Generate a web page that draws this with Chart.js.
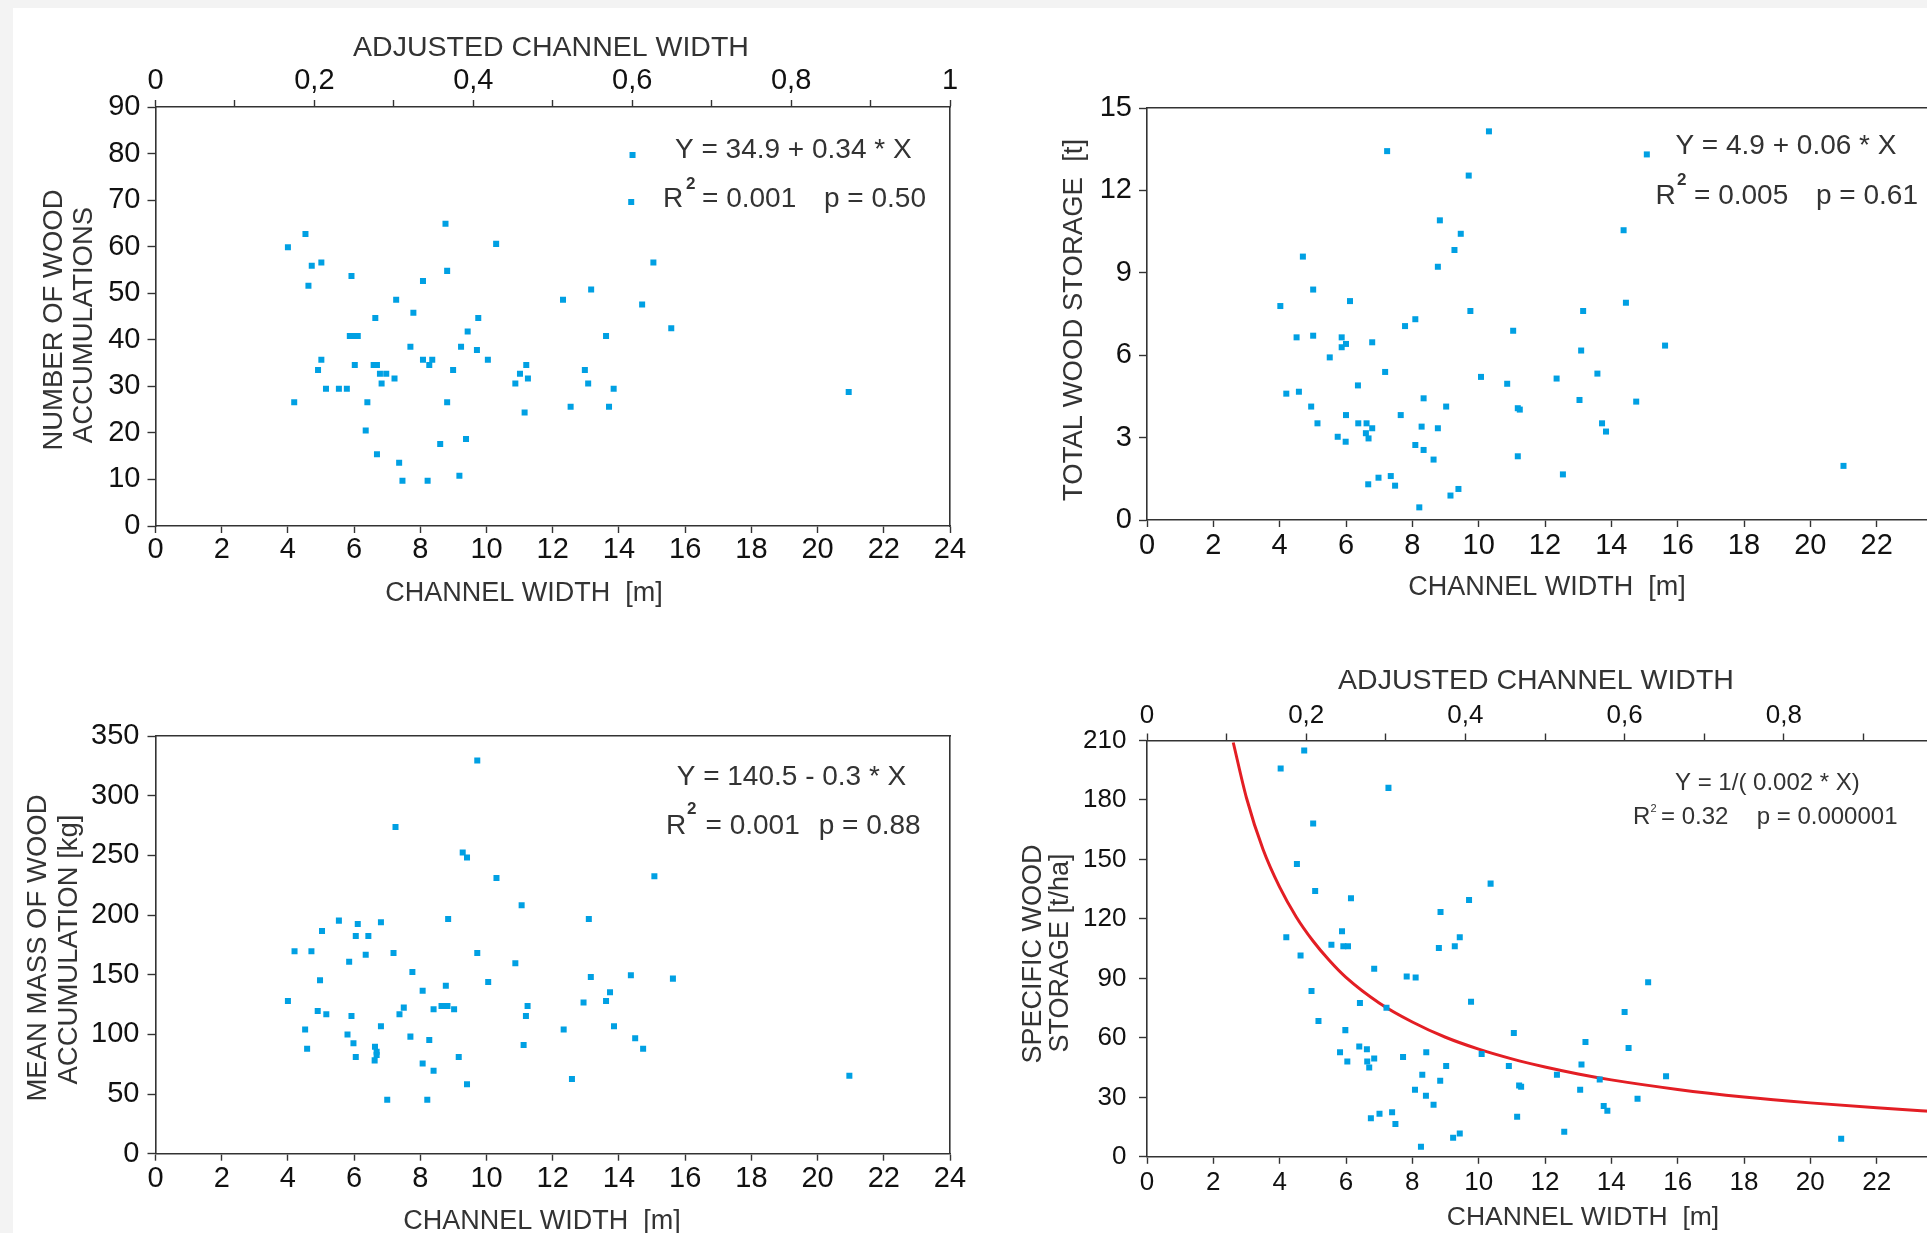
<!DOCTYPE html>
<html>
<head>
<meta charset="utf-8">
<script src="https://cdn.jsdelivr.net/npm/chart.js@4.4.0/dist/chart.umd.min.js"></script>
<style>
html,body{margin:0;padding:0;width:1927px;height:1233px;overflow:hidden;background:#f3f3f3;}
#sheet{position:absolute;left:13px;top:8px;width:1914px;height:1225px;background:#ffffff;}
canvas{position:absolute;display:block;}
</style>
</head>
<body>
<div id="sheet"></div>
<canvas id="c1" width="1000" height="616" style="left:0px;top:0px;width:1000px;height:616px"></canvas>
<canvas id="c2" width="1000" height="616" style="left:1000px;top:0px;width:1000px;height:616px"></canvas>
<canvas id="c3" width="1000" height="617" style="left:0px;top:616px;width:1000px;height:617px"></canvas>
<canvas id="c4" width="1000" height="617" style="left:1000px;top:616px;width:1000px;height:617px"></canvas>
<script>
// ---------------- DATA ----------------
// Panel A: number of wood accumulations vs channel width
const widthA = [4.00,4.53,4.72,5.01,4.62,5.92,4.19,5.01,4.91,5.15,5.54,5.78,5.87,5.99,6.11,6.02,6.64,6.59,6.69,6.78,6.97,6.83,7.22,6.40,6.35,6.69,7.27,7.79,7.70,7.36,7.46,8.08,8.76,8.81,8.08,8.36,8.27,8.99,8.81,8.22,8.60,9.18,9.38,9.23,9.43,9.75,9.71,10.04,10.29,10.87,11.01,11.20,11.25,11.15,12.31,12.54,12.97,13.07,13.16,13.61,13.70,13.84,14.70,15.04,15.58,20.94];
const countA = [59.9,62.7,55.9,56.6,51.6,53.7,26.6,35.7,33.5,29.5,29.5,29.5,40.8,40.8,40.8,34.6,44.7,34.6,34.6,32.7,32.7,30.6,31.7,26.6,20.5,15.4,48.6,45.8,38.5,13.6,9.7,52.6,64.9,54.8,35.7,35.7,34.6,33.5,26.6,9.7,17.6,10.8,18.7,38.5,41.8,44.7,37.8,35.7,60.6,30.6,32.7,34.6,31.7,24.4,48.6,25.6,33.5,30.6,50.8,40.8,25.6,29.5,47.6,56.6,42.5,28.8];
const markerX = [14.41,14.37];
const markerY = [79.7,69.6];

// Panel B: total wood storage [t]
const widthB = [10.31,7.24,15.07,9.70,8.83,9.46,9.27,8.77,14.37,4.70,5.01,4.02,6.12,9.75,14.44,13.15,8.09,7.78,11.04,4.51,5.01,5.87,6.00,5.87,6.79,5.51,15.62,13.09,7.18,10.07,10.86,12.35,13.58,6.36,4.20,4.58,4.95,8.34,9.02,11.18,11.24,13.04,14.75,6.00,7.65,5.14,6.37,6.62,6.79,6.60,6.68,8.28,8.77,13.72,13.84,5.75,5.99,8.09,8.34,8.64,11.18,12.54,6.98,7.35,6.67,7.48,9.39,9.15,8.21,21.00];
const storageB = [14.15,13.43,13.31,12.54,10.91,10.42,9.83,9.22,10.55,9.59,8.39,7.79,7.97,7.61,7.91,7.61,7.31,7.06,6.89,6.65,6.71,6.65,6.41,6.29,6.47,5.92,6.35,6.17,5.39,5.21,4.96,5.15,5.33,4.90,4.60,4.67,4.13,4.43,4.13,4.07,4.02,4.37,4.31,3.82,3.82,3.52,3.52,3.52,3.34,3.16,2.97,3.40,3.34,3.52,3.22,3.03,2.85,2.73,2.55,2.20,2.32,1.66,1.54,1.60,1.30,1.25,1.13,0.89,0.46,1.97];

// Panel C: mean mass of wood accumulation [kg]
const widthC = [9.72,7.25,9.28,9.41,10.30,15.07,11.06,8.84,13.09,5.54,6.11,6.81,5.03,6.05,6.43,4.20,4.71,6.35,7.19,9.72,5.85,10.87,7.76,4.97,13.15,14.36,15.63,10.05,8.77,13.73,8.07,4.00,12.93,13.61,7.50,8.64,8.73,8.82,8.40,9.02,11.24,4.90,5.16,5.92,7.37,11.19,6.81,12.33,13.85,4.52,5.80,7.70,8.27,5.98,6.63,6.68,6.68,6.62,14.49,14.73,11.12,4.58,6.05,9.16,8.07,8.40,9.41,12.58,7.00,8.21,20.96];
const massC = [329.4,273.8,252.3,248.1,231.0,232.4,208.1,196.7,196.7,195.3,192.5,193.9,186.6,182.4,182.4,169.6,169.6,166.8,168.2,168.2,160.9,159.5,152.3,145.3,148.1,149.5,146.7,143.9,140.8,135.2,136.6,128.0,126.6,128.0,122.4,123.8,123.8,123.8,121.0,121.0,123.8,119.6,116.8,115.4,116.8,115.4,106.8,104.0,106.8,104.0,99.8,98.1,95.3,92.5,89.7,85.5,82.7,78.2,96.7,88.0,91.1,88.0,81.0,81.0,75.5,69.6,58.1,62.6,45.3,45.3,65.3];

// Panel D: specific wood storage [t/ha]
const widthD = [4.74,4.03,7.28,5.01,4.52,5.07,6.15,10.36,9.71,8.85,4.20,5.88,5.56,5.92,6.06,9.43,9.28,8.80,4.63,6.85,7.83,8.10,4.96,9.77,6.42,7.22,15.11,5.17,14.40,5.98,11.06,13.22,14.52,5.82,6.40,6.63,8.42,10.09,6.04,6.64,6.85,6.70,7.72,9.02,10.91,13.10,8.30,12.36,13.65,15.65,8.84,11.22,11.28,8.08,13.06,8.41,8.64,14.79,13.77,13.88,11.16,6.75,7.01,7.39,7.49,12.58,9.43,9.23,8.26,20.93];
const specificD = [205.0,195.9,186.1,168.1,147.7,134.1,130.4,137.8,129.6,123.5,110.7,113.8,107.0,106.2,106.2,110.7,106.2,105.3,101.6,94.9,91.0,90.4,83.6,78.2,77.6,75.2,88.0,68.5,73.0,63.9,62.4,57.9,54.9,52.7,55.7,54.2,52.7,51.8,48.1,48.1,49.6,45.1,50.3,45.8,45.8,46.6,41.4,41.4,39.0,40.6,38.4,36.0,35.3,33.8,33.8,30.8,26.3,29.3,25.6,23.2,20.2,19.5,21.7,22.5,16.5,12.6,11.8,9.6,5.05,9.1];
// fitted curve, values
const curveX = [2.6,3,3.5,4,4.5,5,5.5,6,7,8,9,10,11,12,13,14,16,18,20,22,24];
const curveY = [209,181,155,136,121,109,99,90.5,77.6,68,60.3,54.3,49.4,45.3,41.8,38.8,34,30.2,27.2,24.7,22.6];

// tick labels of the adjusted channel width axis (every 0.2)
const adjTickLabels = ['0','0,2','0,4','0,6','0,8','1'];

// ---------------- STYLE / HELPERS ----------------
const FONT = "'Liberation Sans', Arial, Helvetica, sans-serif";
const AXIS_COLOR = '#333333';
const TICK_COLOR = '#111111';
const TEXT_COLOR = '#333333';
const POINT_COLOR = '#00a0e3';
const CURVE_COLOR = '#e31e24';

const pts = (xs, ys) => xs.map((x, i) => ({x: x, y: ys[i]}));

function textPlugin(items, ox, oy) {
  return {
    id: 'pageTexts',
    afterDraw(chart) {
      const ctx = chart.ctx;
      ctx.save();
      for (const it of items) {
        ctx.font = (it.bold ? 'bold ' : '') + it.size + 'px ' + FONT;
        ctx.fillStyle = it.color || TEXT_COLOR;
        ctx.textAlign = it.align || 'left';
        ctx.textBaseline = 'alphabetic';
        const d = 0.358 * it.size;
        if (it.rot) {
          ctx.save();
          ctx.translate(it.x - ox, it.y - oy);
          ctx.rotate(-Math.PI / 2);
          ctx.fillText(it.t, 0, d);
          ctx.restore();
        } else {
          ctx.fillText(it.t, it.x - ox, it.y - oy + d);
        }
      }
      ctx.restore();
    }
  };
}

function tickGrid(len) {
  return {display: true, drawOnChartArea: false, drawTicks: true, tickLength: len,
          tickColor: AXIS_COLOR, tickWidth: 1.4, color: AXIS_COLOR};
}
const border = {display: true, color: AXIS_COLOR, width: 1.6};

function bottomAxis(h, size, pad) {
  return {type: 'linear', position: 'bottom', min: 0, max: 24,
    ticks: {stepSize: 2, autoSkip: false, maxRotation: 0, padding: pad, color: TICK_COLOR,
            font: {family: FONT, size: size}},
    grid: tickGrid(7), border: border,
    afterFit(s) { s.height = h; }};
}
function leftAxis(w, max, step, size, pad) {
  return {type: 'linear', position: 'left', min: 0, max: max,
    ticks: {stepSize: step, autoSkip: false, padding: pad, color: TICK_COLOR,
            font: {family: FONT, size: size}},
    grid: tickGrid(8), border: border,
    afterFit(s) { s.width = w; }};
}
function topAdjAxis(h, size, pad) {
  return {type: 'linear', position: 'top', min: 0, max: 1,
    ticks: {stepSize: 0.1, autoSkip: false, maxRotation: 0, padding: pad, color: TICK_COLOR,
            font: {family: FONT, size: size},
            callback(v) {
              const k = Math.round(v * 10);
              return (k % 2 === 0) ? adjTickLabels[k / 2] : '';
            }},
    grid: tickGrid(7), border: border,
    afterFit(s) { s.height = h; }};
}
function frameAxis(pos, size) {
  return {type: 'linear', position: pos, min: 0, max: 1, display: true,
    ticks: {display: false}, grid: {display: false}, border: border,
    afterFit(s) { if (pos === 'top' || pos === 'bottom') s.height = size; else s.width = size; }};
}

function makeChart(id, datasets, scales, texts, ox, oy) {
  return new Chart(document.getElementById(id), {
    type: 'scatter',
    data: {datasets: datasets},
    options: {
      responsive: false, animation: false, events: [],
      layout: {padding: 0},
      plugins: {legend: {display: false}, tooltip: {enabled: false}},
      scales: scales
    },
    plugins: [textPlugin(texts, ox, oy)]
  });
}

function pointSet(xs, ys) {
  return {data: pts(xs, ys), pointStyle: 'rect', pointRadius: 4.25, borderWidth: 0,
          backgroundColor: POINT_COLOR, xAxisID: 'x', yAxisID: 'y'};
}

// ---------------- PANEL A ----------------
makeChart('c1',
  [pointSet(widthA, countA), pointSet(markerX, markerY)],
  {x: bottomAxis(90, 29, 0), y: leftAxis(155.5, 90, 10, 29, 7),
   xt: topAdjAxis(107, 29, 2), yr: frameAxis('right', 50)},
  [
    {t: 'ADJUSTED CHANNEL WIDTH', x: 551, y: 46, size: 28.5, align: 'center'},
    {t: 'CHANNEL WIDTH  [m]', x: 524, y: 591, size: 27, align: 'center'},
    {t: 'NUMBER OF WOOD', x: 52.5, y: 320, size: 27.5, align: 'center', rot: true},
    {t: 'ACCUMULATIONS', x: 81.7, y: 325, size: 27.5, align: 'center', rot: true},
    {t: 'Y = 34.9 + 0.34 * X', x: 675, y: 147.5, size: 28},
    {t: 'R', x: 663, y: 196.5, size: 28},
    {t: '2', x: 686, y: 182.5, size: 17, bold: true},
    {t: '= 0.001', x: 702, y: 196.5, size: 28},
    {t: 'p = 0.50', x: 824, y: 196.5, size: 28}
  ], 0, 0);

// ---------------- PANEL B ----------------
makeChart('c2',
  [pointSet(widthB, storageB)],
  {x: bottomAxis(96, 29, 1.5), y: leftAxis(147, 15, 3, 29, 7),
   xt: frameAxis('top', 108), yr: frameAxis('right', 57)},
  [
    {t: 'CHANNEL WIDTH  [m]', x: 1547, y: 585, size: 27, align: 'center'},
    {t: 'TOTAL WOOD STORAGE  [t]', x: 1072.5, y: 320, size: 27.5, align: 'center', rot: true},
    {t: 'Y = 4.9 + 0.06 * X', x: 1675.4, y: 144, size: 28},
    {t: 'R', x: 1655.6, y: 193.8, size: 28},
    {t: '2', x: 1677, y: 179, size: 17, bold: true},
    {t: '= 0.005', x: 1694, y: 193.8, size: 28},
    {t: 'p = 0.61', x: 1816, y: 193.8, size: 28}
  ], 1000, 0);

// ---------------- PANEL C ----------------
makeChart('c3',
  [pointSet(widthC, massC)],
  {x: bottomAxis(79.3, 29, 1), y: leftAxis(155.5, 350, 50, 29, 8),
   xt: frameAxis('top', 120), yr: frameAxis('right', 50)},
  [
    {t: 'CHANNEL WIDTH  [m]', x: 542, y: 1219, size: 27, align: 'center'},
    {t: 'MEAN MASS OF WOOD', x: 36, y: 948, size: 27.5, align: 'center', rot: true},
    {t: 'ACCUMULATION [kg]', x: 67, y: 949.5, size: 27.5, align: 'center', rot: true},
    {t: 'Y = 140.5 - 0.3 * X', x: 676.7, y: 775, size: 28},
    {t: 'R', x: 666, y: 824, size: 28},
    {t: '2', x: 687, y: 808.4, size: 17, bold: true},
    {t: '= 0.001', x: 705.5, y: 824, size: 28},
    {t: 'p = 0.88', x: 818.7, y: 824, size: 28}
  ], 0, 616);

// ---------------- PANEL D ----------------
makeChart('c4',
  [pointSet(widthD, specificD),
   {type: 'line', data: pts(curveX, curveY), showLine: true, pointRadius: 0, borderWidth: 3,
    borderColor: CURVE_COLOR, fill: false, cubicInterpolationMode: 'monotone',
    xAxisID: 'x', yAxisID: 'y'}],
  {x: bottomAxis(76.2, 26, 3.6), y: leftAxis(147, 210, 30, 26, 12.5),
   xt: topAdjAxis(124.5, 26, 2), yr: frameAxis('right', 57)},
  [
    {t: 'ADJUSTED CHANNEL WIDTH', x: 1536, y: 678.6, size: 28.5, align: 'center'},
    {t: 'CHANNEL WIDTH  [m]', x: 1583, y: 1216, size: 26.5, align: 'center'},
    {t: 'SPECIFIC WOOD', x: 1031, y: 954, size: 27, align: 'center', rot: true},
    {t: 'STORAGE [t/ha]', x: 1058.7, y: 953, size: 27, align: 'center', rot: true},
    {t: 'Y = 1/( 0.002 * X)', x: 1675, y: 781.5, size: 24},
    {t: 'R', x: 1633, y: 815, size: 24},
    {t: '2', x: 1650.5, y: 808, size: 11},
    {t: '= 0.32', x: 1661, y: 815, size: 24},
    {t: 'p = 0.000001', x: 1756.7, y: 815, size: 24}
  ], 1000, 616);
</script>
</body>
</html>
